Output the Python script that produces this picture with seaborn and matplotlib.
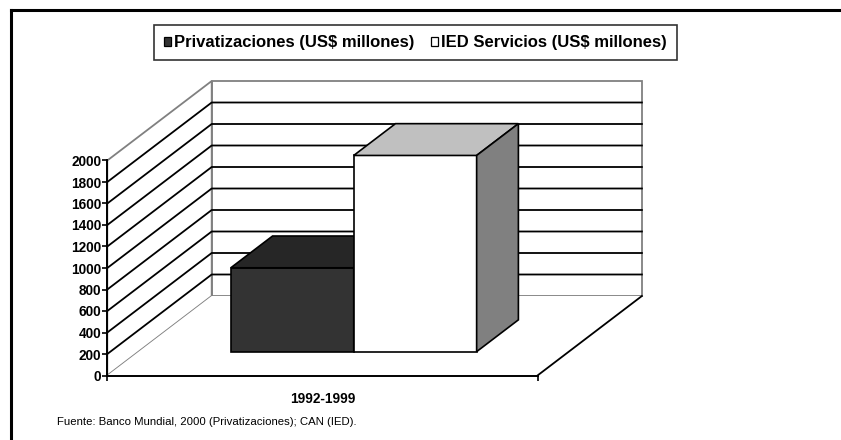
import matplotlib
matplotlib.use("Agg")
import matplotlib.pyplot as plt
import numpy as np
import pandas as pd
import seaborn as sns
from matplotlib.transforms import Affine2D, IdentityTransform
from matplotlib.patches import Polygon, Rectangle
from matplotlib.lines import Line2D

# ---- data -------------------------------------------------------------
periodo = ["1992-1999"]
series = ["Privatizaciones (US$ millones)", "IED Servicios (US$ millones)"]
valores = [780, 1825]
y_ticks = list(range(0, 2001, 200))
fuente = "Fuente: Banco Mundial, 2000 (Privatizaciones); CAN (IED)."

# ---- style ------------------------------------------------------------
front_colors = ["#333333", "#ffffff"]
top_colors = ["#262626", "#c0c0c0"]
side_colors = ["#1f1f1f", "#808080"]
wall_edge = "#808080"

plt.rcParams["font.family"] = ["Liberation Sans", "DejaVu Sans"]

W, H = 841, 440
fig = plt.figure(figsize=(W / 100, H / 100), dpi=100)
fig.patch.set_facecolor("white")

# front plane of the 3-D box (pixels)
x_left, x_right = 107.3, 537.5
y_zero, y_top = 375.5, 160.5
ax = fig.add_axes([x_left / W, 1 - y_zero / H, (x_right - x_left) / W, (y_zero - y_top) / H])
ax.patch.set_visible(False)

# oblique depth offset of the whole box, in pixels
DX, DY = 104.4, 79.5
bar_d0, bar_d1 = 0.30, 0.70

df = pd.DataFrame({"periodo": periodo * len(series), "serie": series, "valor": valores})
sns.barplot(data=df, x="periodo", y="valor", hue="serie", hue_order=series,
            palette=front_colors, saturation=1, width=2 / 3.5, dodge=True,
            edgecolor="black", linewidth=1.2, legend=False, ax=ax)
bars = sorted([p for p in ax.patches if isinstance(p, Rectangle) and p.get_height() > 0],
              key=lambda p: p.get_x())
ax.set_xlim(-0.5, 0.5)
ax.set_ylim(0, 2000)
ax.set_xlabel("")
ax.set_ylabel("")

xmin, xmax = ax.get_xlim()
ymin, ymax = ax.get_ylim()


def proj(x, v, d):
    """Display position of a point (category x, value v, depth d)."""
    px, py = ax.transData.transform((x, v))
    return (px + d * DX, py + d * DY)


def poly(pts, **kw):
    p = Polygon(pts, closed=True, transform=IdentityTransform(), clip_on=False,
                joinstyle="miter", **kw)
    ax.add_patch(p)
    return p


def line(pts, **kw):
    xs, ys = zip(*pts)
    ln = Line2D(xs, ys, transform=IdentityTransform(), clip_on=False,
                solid_capstyle="projecting", **kw)
    ax.add_line(ln)
    return ln


# walls and floor
poly([proj(xmin, ymin, 1), proj(xmax, ymin, 1), proj(xmax, ymax, 1), proj(xmin, ymax, 1)],
     facecolor="white", edgecolor=wall_edge, linewidth=1.3, zorder=0.5)
poly([proj(xmin, ymin, 0), proj(xmin, ymin, 1), proj(xmin, ymax, 1), proj(xmin, ymax, 0)],
     facecolor="white", edgecolor=wall_edge, linewidth=1.3, zorder=0.5)
poly([proj(xmin, ymin, 0), proj(xmax, ymin, 0), proj(xmax, ymin, 1), proj(xmin, ymin, 1)],
     facecolor="white", edgecolor="none", zorder=0.5)
line([proj(xmax, ymin, 0), proj(xmax, ymin, 1)], color="black", linewidth=1.3, zorder=0.8)

# gridlines on side wall and back wall
for v in y_ticks[1:-1]:
    line([proj(xmin, v, 0), proj(xmin, v, 1), proj(xmax, v, 1)],
         color="black", linewidth=1.3, zorder=0.7)

# bars: front faces from seaborn, shifted in depth, plus top and side faces
for i, b in enumerate(bars):
    z = 3 + i
    b.set_transform(ax.transData + Affine2D().translate(bar_d0 * DX, bar_d0 * DY))
    b.set_clip_on(False)
    b.set_zorder(z)
    b.set_joinstyle("miter")
    x0, x1, v = b.get_x(), b.get_x() + b.get_width(), b.get_height()
    poly([proj(x0, v, bar_d0), proj(x1, v, bar_d0), proj(x1, v, bar_d1), proj(x0, v, bar_d1)],
         facecolor=top_colors[i], edgecolor="black", linewidth=1.2, zorder=z + 0.1)
    poly([proj(x1, 0, bar_d0), proj(x1, 0, bar_d1), proj(x1, v, bar_d1), proj(x1, v, bar_d0)],
         facecolor=side_colors[i], edgecolor="black", linewidth=1.2, zorder=z + 0.1)

# axes: value axis on the front-left edge, category axis on the front floor edge
for s in ["top", "right"]:
    ax.spines[s].set_visible(False)
for s in ["left", "bottom"]:
    ax.spines[s].set_color("black")
    ax.spines[s].set_linewidth(1.4)

ax.set_yticks(y_ticks)
ax.set_yticklabels([str(t) for t in y_ticks], fontsize=9.8, fontweight="bold")
ax.tick_params(axis="y", direction="out", length=3.5, width=1.2, color="black", pad=1)

ax.set_xticks([xmin, xmax])
ax.set_xticklabels(["", ""])
ax.set_xticks([0], minor=True)
ax.set_xticklabels(periodo, minor=True, fontsize=9.8, fontweight="bold")
ax.tick_params(axis="x", which="major", direction="out", length=3.5, width=1.2, color="black")
ax.tick_params(axis="x", which="minor", length=0, pad=12)

# legend
handles = [Rectangle((0, 0), 1, 1, facecolor=c, edgecolor="black", linewidth=0.9)
           for c in front_colors]
leg = fig.legend(handles, series, loc="center", bbox_to_anchor=(415.5 / W, 1 - 42.8 / H),
                 ncol=2, frameon=True, fancybox=False, shadow=False,
                 prop={"weight": "bold", "size": 12},
                 handlelength=0.42, handleheight=0.42, handletextpad=0.2,
                 columnspacing=1.0, borderpad=0.6, borderaxespad=0)
leg.get_frame().set_edgecolor("black")
leg.get_frame().set_linewidth(1.2)

# source note
fig.text(56.6 / W, 1 - 422 / H, fuente, fontsize=8.2, ha="left", va="center")

# outer frame
fig.add_artist(Line2D([10.5 / W, 1.0], [1 - 10.5 / H, 1 - 10.5 / H], transform=fig.transFigure,
                      color="black", linewidth=2.2, solid_capstyle="projecting"))
fig.add_artist(Line2D([10.5 / W, 10.5 / W], [1 - 10.5 / H, 0.0], transform=fig.transFigure,
                      color="black", linewidth=2.2, solid_capstyle="projecting"))

fig.savefig("out.png", dpi=100, facecolor="white")
